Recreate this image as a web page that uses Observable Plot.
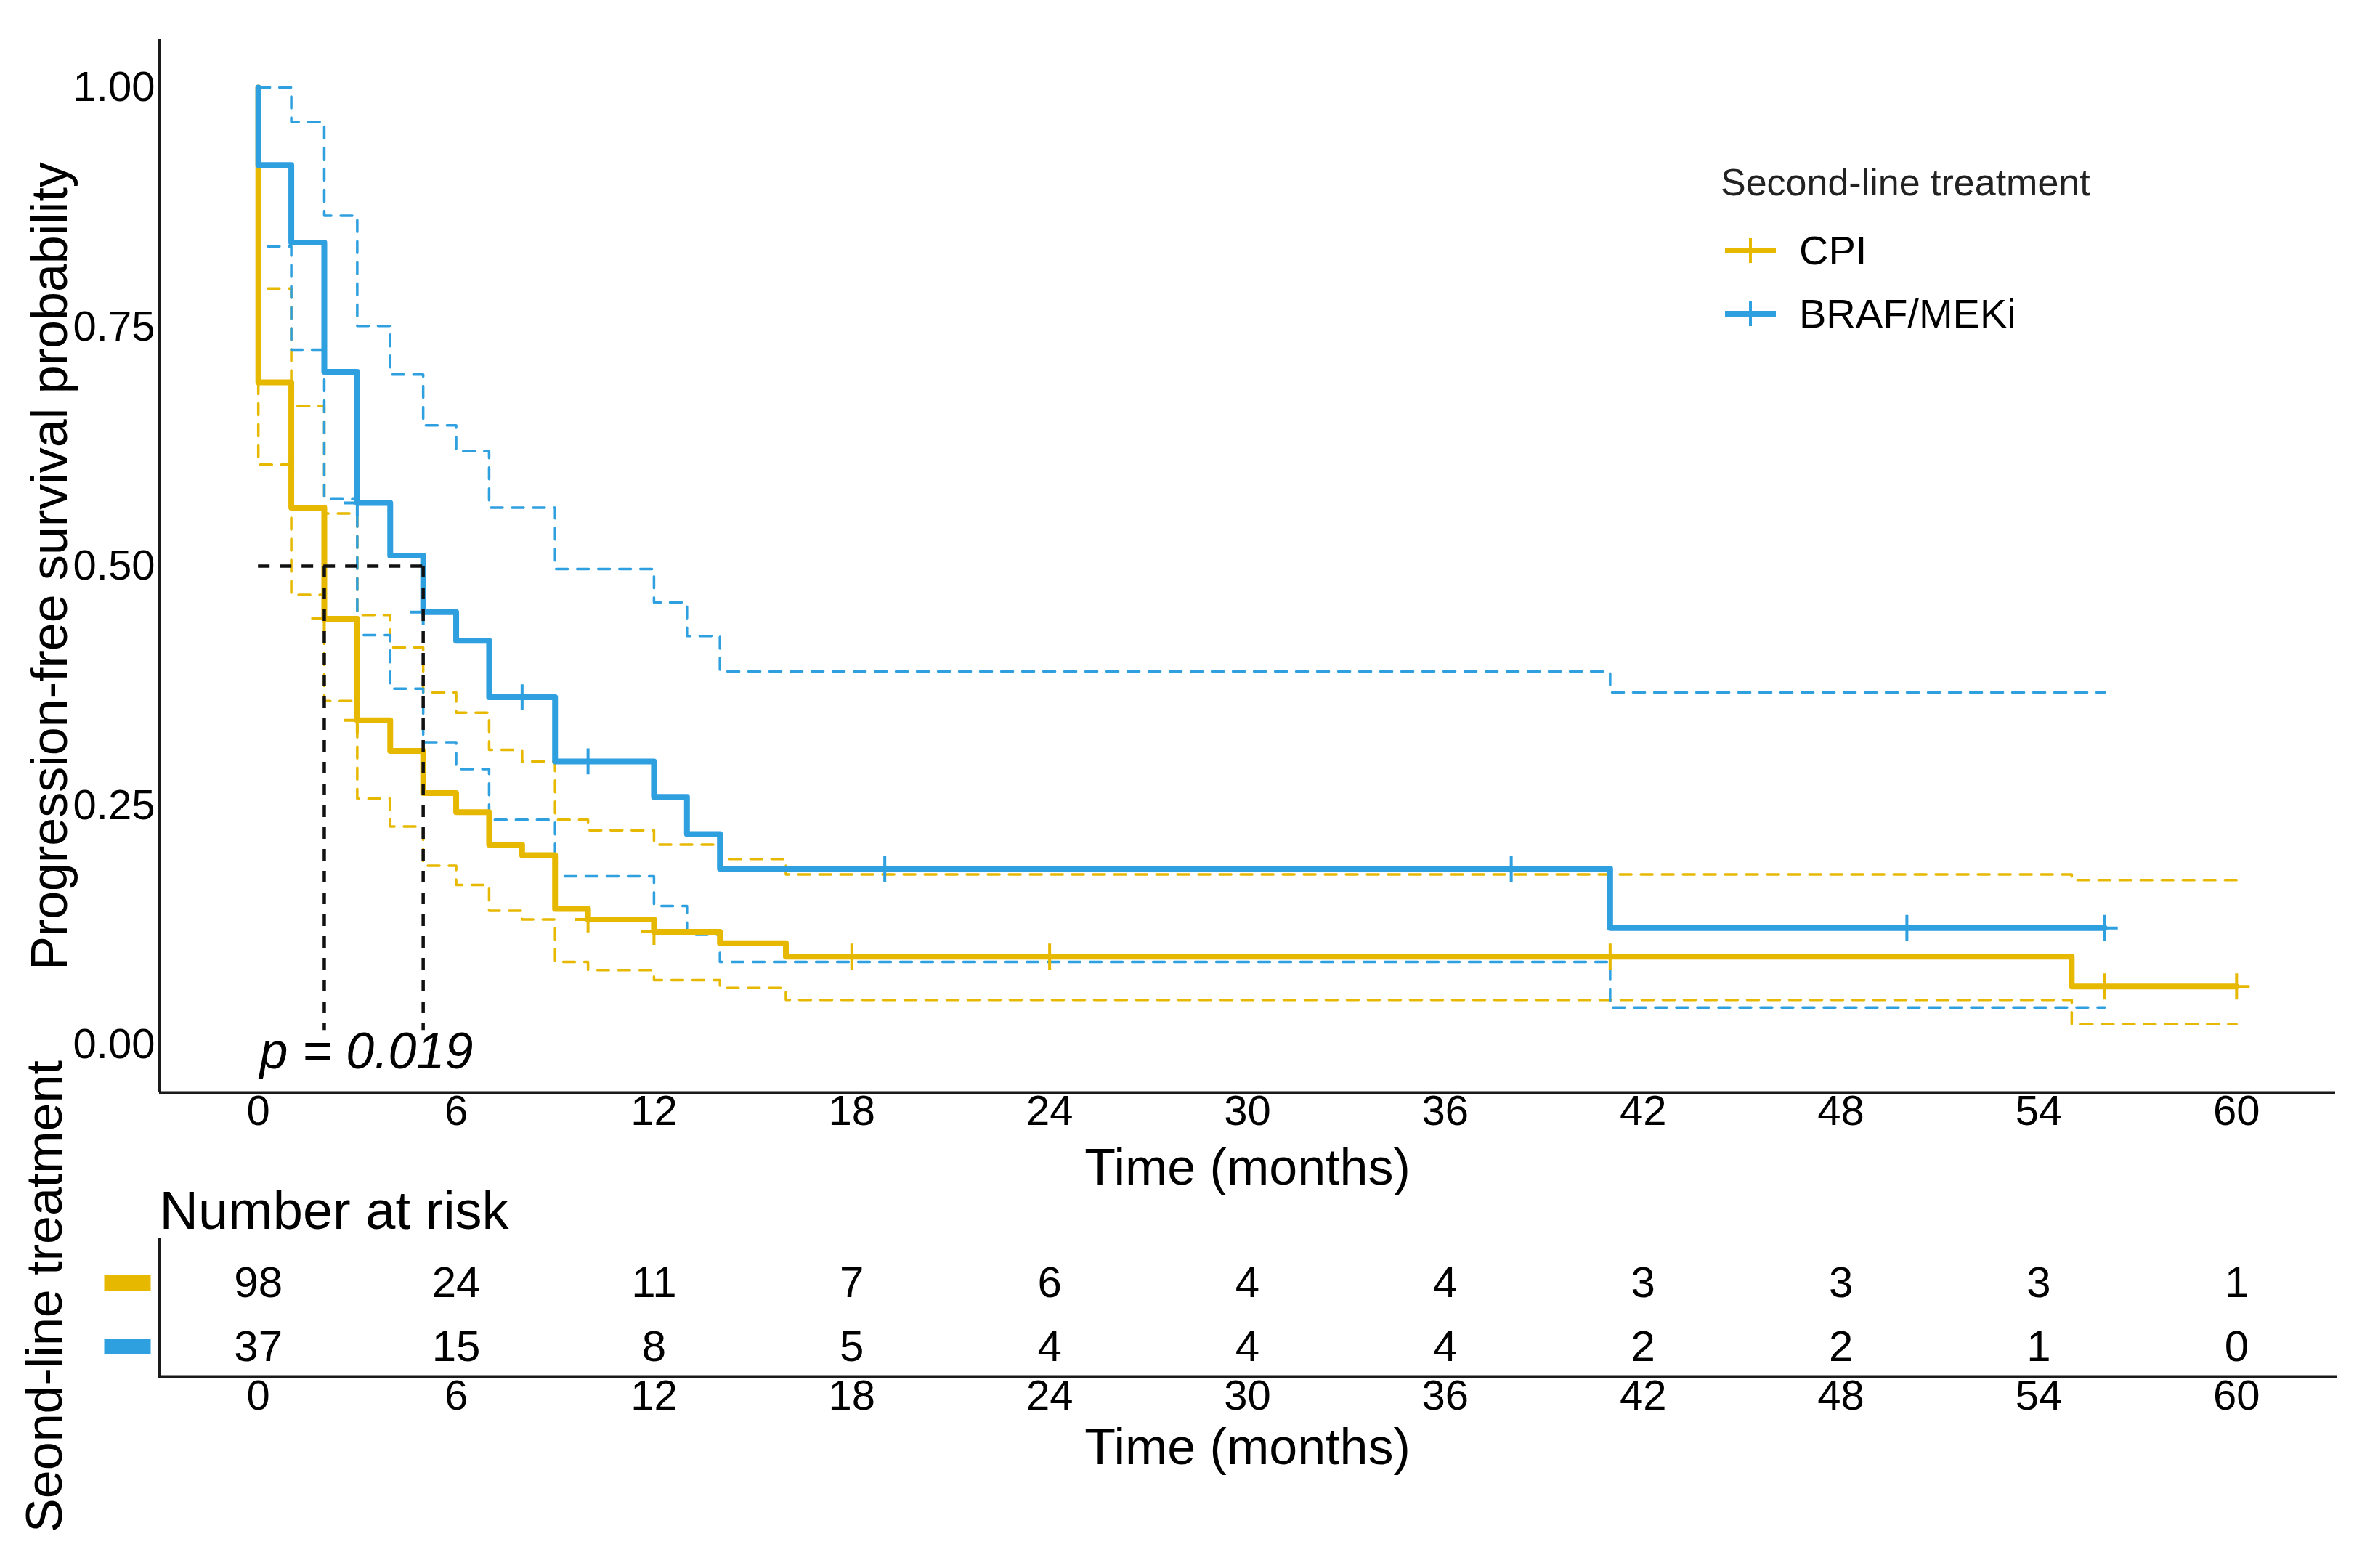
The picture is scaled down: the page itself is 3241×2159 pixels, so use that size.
<!DOCTYPE html>
<html>
<head>
<meta charset="utf-8">
<script src="https://cdn.jsdelivr.net/npm/d3@7"></script>
<script src="https://cdn.jsdelivr.net/npm/@observablehq/plot@0.6"></script>
<style>
html, body { margin: 0; padding: 0; background: #fff; }
#wrap { position: relative; width: 3241px; height: 2159px; font-family: "Liberation Sans", Arial, sans-serif; color: #000; }
#main, #risk { position: absolute; left: 0; }
#main { top: 0; }
#risk { top: 1400px; }
.lg { position: absolute; white-space: nowrap; }
</style>
</head>
<body>
<div id="wrap"><div id="main"></div><div id="risk"></div></div>
<script>
// ---------- data ----------
const groups = ["CPI", "BRAF/MEKi"];
const colors = ["#E7B800", "#2E9FDF"];

const cpiTime  = [0, 0, 1, 2, 3, 4, 5, 6, 7, 8, 9, 10, 12, 14, 16, 55, 60];
const cpiSurv  = [1, 0.692, 0.561, 0.445, 0.339, 0.307, 0.263, 0.243, 0.209, 0.198, 0.142, 0.131, 0.118, 0.106, 0.092, 0.061, 0.061];
const cpiUpper = [1, 0.790, 0.667, 0.555, 0.449, 0.415, 0.368, 0.347, 0.308, 0.296, 0.235, 0.224, 0.209, 0.194, 0.178, 0.172, 0.172];
const cpiLower = [1, 0.606, 0.470, 0.359, 0.257, 0.228, 0.187, 0.167, 0.140, 0.131, 0.0865, 0.078, 0.0675, 0.0595, 0.047, 0.0215, 0.0215];

const brafTime  = [0, 0, 1, 2, 3, 4, 5, 6, 7, 9, 12, 13, 14, 41, 56];
const brafSurv  = [1, 0.919, 0.838, 0.703, 0.566, 0.511, 0.452, 0.422, 0.363, 0.296, 0.259, 0.220, 0.184, 0.122, 0.122];
const brafUpper = [1, 1, 0.964, 0.866, 0.751, 0.700, 0.647, 0.620, 0.561, 0.497, 0.462, 0.427, 0.390, 0.368, 0.368];
const brafLower = [1, 0.834, 0.726, 0.570, 0.428, 0.372, 0.316, 0.288, 0.235, 0.176, 0.145, 0.115, 0.0865, 0.039, 0.039];

const cpiCensorTime  = [2, 3, 10, 12, 18, 24, 41, 56, 60];
const cpiCensorSurv  = [0.445, 0.339, 0.131, 0.118, 0.092, 0.092, 0.092, 0.061, 0.061];
const brafCensorTime = [3, 5, 8, 10, 19, 38, 50, 56];
const brafCensorSurv = [0.566, 0.452, 0.363, 0.296, 0.184, 0.184, 0.122, 0.122];

const medianTimes = [2, 5];          // CPI, BRAF/MEKi
const medianLevel = 0.5;

const xTicks = [0, 6, 12, 18, 24, 30, 36, 42, 48, 54, 60];
const yTicks = [0, 0.25, 0.5, 0.75, 1];
const riskTimes = [0, 6, 12, 18, 24, 30, 36, 42, 48, 54, 60];
const cpiRisk  = [98, 24, 11, 7, 6, 4, 4, 3, 3, 3, 1];
const brafRisk = [37, 15, 8, 5, 4, 4, 4, 2, 2, 1, 0];

const pText = "p = 0.019";
const xLabel = "Time (months)";
const yLabel = "Progression-free survival probability";
const legendTitle = "Second-line treatment";
const riskTitle = "Number at risk";
const riskYLabel = "Seond-line treatment";

// ---------- derived tables ----------
const curveRows = [
  ...cpiTime.map((t, i) => ({group: groups[0], t, s: cpiSurv[i], hi: cpiUpper[i], lo: cpiLower[i]})),
  ...brafTime.map((t, i) => ({group: groups[1], t, s: brafSurv[i], hi: brafUpper[i], lo: brafLower[i]}))
];
const censorRows = [
  ...cpiCensorTime.map((t, i) => ({group: groups[0], t, s: cpiCensorSurv[i]})),
  ...brafCensorTime.map((t, i) => ({group: groups[1], t, s: brafCensorSurv[i]}))
];
const riskRows = [
  ...riskTimes.map((t, i) => ({group: groups[0], t, n: cpiRisk[i]})),
  ...riskTimes.map((t, i) => ({group: groups[1], t, n: brafRisk[i]}))
];

const xDomain = [-3, 63];
const yDomain = [-0.05, 1.05];
const font = "'Liberation Sans', Arial, sans-serif";
const axisColor = "#1a1a1a";

// ---------- main KM plot ----------
const main = Plot.plot({
  width: 3241, height: 1660,
  marginLeft: 219, marginRight: 26, marginTop: 54, marginBottom: 156,
  style: {fontFamily: font, fontSize: "58px", color: "#000", background: "#fff", overflow: "visible"},
  x: {domain: xDomain, axis: null},
  y: {domain: yDomain, axis: null},
  color: {domain: groups, range: colors},
  marks: [
    Plot.line(curveRows, {x: "t", y: "hi", z: "group", stroke: "group", curve: "step-after", strokeWidth: 3.5, strokeDasharray: "16,13"}),
    Plot.line(curveRows, {x: "t", y: "lo", z: "group", stroke: "group", curve: "step-after", strokeWidth: 3.5, strokeDasharray: "16,13"}),
    Plot.line(curveRows, {x: "t", y: "s", z: "group", stroke: "group", curve: "step-after", strokeWidth: 8}),
    Plot.dot(censorRows, {x: "t", y: "s", stroke: "group", symbol: "plus", r: 11.6, strokeWidth: 4}),
    Plot.ruleY([medianLevel], {x1: 0, x2: d3.max(medianTimes), stroke: "#111", strokeWidth: 4.5, strokeDasharray: "16,14"}),
    Plot.ruleX(medianTimes, {y1: medianLevel, y2: 0.015, stroke: "#111", strokeWidth: 4.5, strokeDasharray: "16,14"}),
    Plot.axisX({ticks: xTicks, tickSize: 0, tickPadding: 3, fontSize: 58, label: null}),
    Plot.axisY({ticks: yTicks, tickFormat: d3.format(".2f"), tickSize: 0, tickPadding: 6, fontSize: 58, label: null}),
    Plot.ruleX([xDomain[0]], {stroke: axisColor, strokeWidth: 4}),
    Plot.ruleY([yDomain[0]], {stroke: axisColor, strokeWidth: 4}),
    Plot.text([pText], {frameAnchor: "bottom-left", dx: 138, dy: -56, textAnchor: "start", lineAnchor: "middle", fontSize: 70, fontStyle: "italic", fill: "#000"}),
    Plot.text([xLabel], {frameAnchor: "bottom", dy: 104, textAnchor: "middle", lineAnchor: "middle", fontSize: 70, fill: "#000"}),
    Plot.text([yLabel], {frameAnchor: "left", dx: -150, rotate: -90, textAnchor: "middle", lineAnchor: "middle", fontSize: 70, fill: "#000"})
  ]
});
document.getElementById("main").appendChild(main);

// ---------- risk table ----------
const barSymbol = {draw(context) { context.rect(-32, -10.5, 64, 21); }};
const risk = Plot.plot({
  width: 3241, height: 759,
  marginLeft: 219, marginRight: 26, marginTop: 304, marginBottom: 264,
  style: {fontFamily: font, fontSize: "58px", color: "#000", background: "transparent", overflow: "visible"},
  x: {domain: xDomain, axis: null},
  y: {type: "point", domain: groups, range: [366, 454], padding: 0, axis: null},
  color: {domain: groups, range: colors},
  marks: [
    Plot.text(riskRows, {x: "t", y: "group", text: "n", fontSize: 60, fill: "#000"}),
    Plot.dot(groups, {y: d => d, fill: d => d, symbol: barSymbol, r: 10, frameAnchor: "left", dx: -44}),
    Plot.axisX({ticks: xTicks, tickSize: 0, tickPadding: 4, fontSize: 58, label: null}),
    Plot.ruleX([xDomain[0]], {stroke: axisColor, strokeWidth: 4}),
    Plot.frame({anchor: "bottom", stroke: axisColor, strokeWidth: 4}),
    Plot.text([riskTitle], {frameAnchor: "top-left", dy: -36, textAnchor: "start", lineAnchor: "middle", fontSize: 74, fill: "#000"}),
    Plot.text([xLabel], {frameAnchor: "bottom", dy: 98, textAnchor: "middle", lineAnchor: "middle", fontSize: 70, fill: "#000"}),
    Plot.text([riskYLabel], {frameAnchor: "left", dx: -157, dy: -15, rotate: -90, textAnchor: "middle", lineAnchor: "middle", fontSize: 70, fill: "#000"})
  ]
});
document.getElementById("risk").appendChild(risk);

// ---------- legend (inside plot area, top right) ----------
const wrap = document.getElementById("wrap");
const lt = document.createElement("div");
lt.className = "lg";
lt.textContent = legendTitle;
Object.assign(lt.style, {left: "2369px", top: "221px", fontSize: "52px", lineHeight: "60px", color: "#222"});
wrap.appendChild(lt);
const itemY = [345, 432];
groups.forEach((g, i) => {
  const svg = d3.create("svg").attr("width", 74).attr("height", 40)
    .style("position", "absolute").style("left", "2373px").style("top", (itemY[i] - 20) + "px");
  svg.append("line").attr("x1", 2).attr("x2", 72).attr("y1", 20).attr("y2", 20)
    .attr("stroke", colors[i]).attr("stroke-width", 8);
  svg.append("line").attr("x1", 37).attr("x2", 37).attr("y1", 3).attr("y2", 37)
    .attr("stroke", colors[i]).attr("stroke-width", 4);
  wrap.appendChild(svg.node());
  const t = document.createElement("div");
  t.className = "lg";
  t.textContent = g;
  Object.assign(t.style, {left: "2477px", top: (itemY[i] - 35) + "px", fontSize: "56px", lineHeight: "70px", color: "#000"});
  wrap.appendChild(t);
});
</script>
</body>
</html>
